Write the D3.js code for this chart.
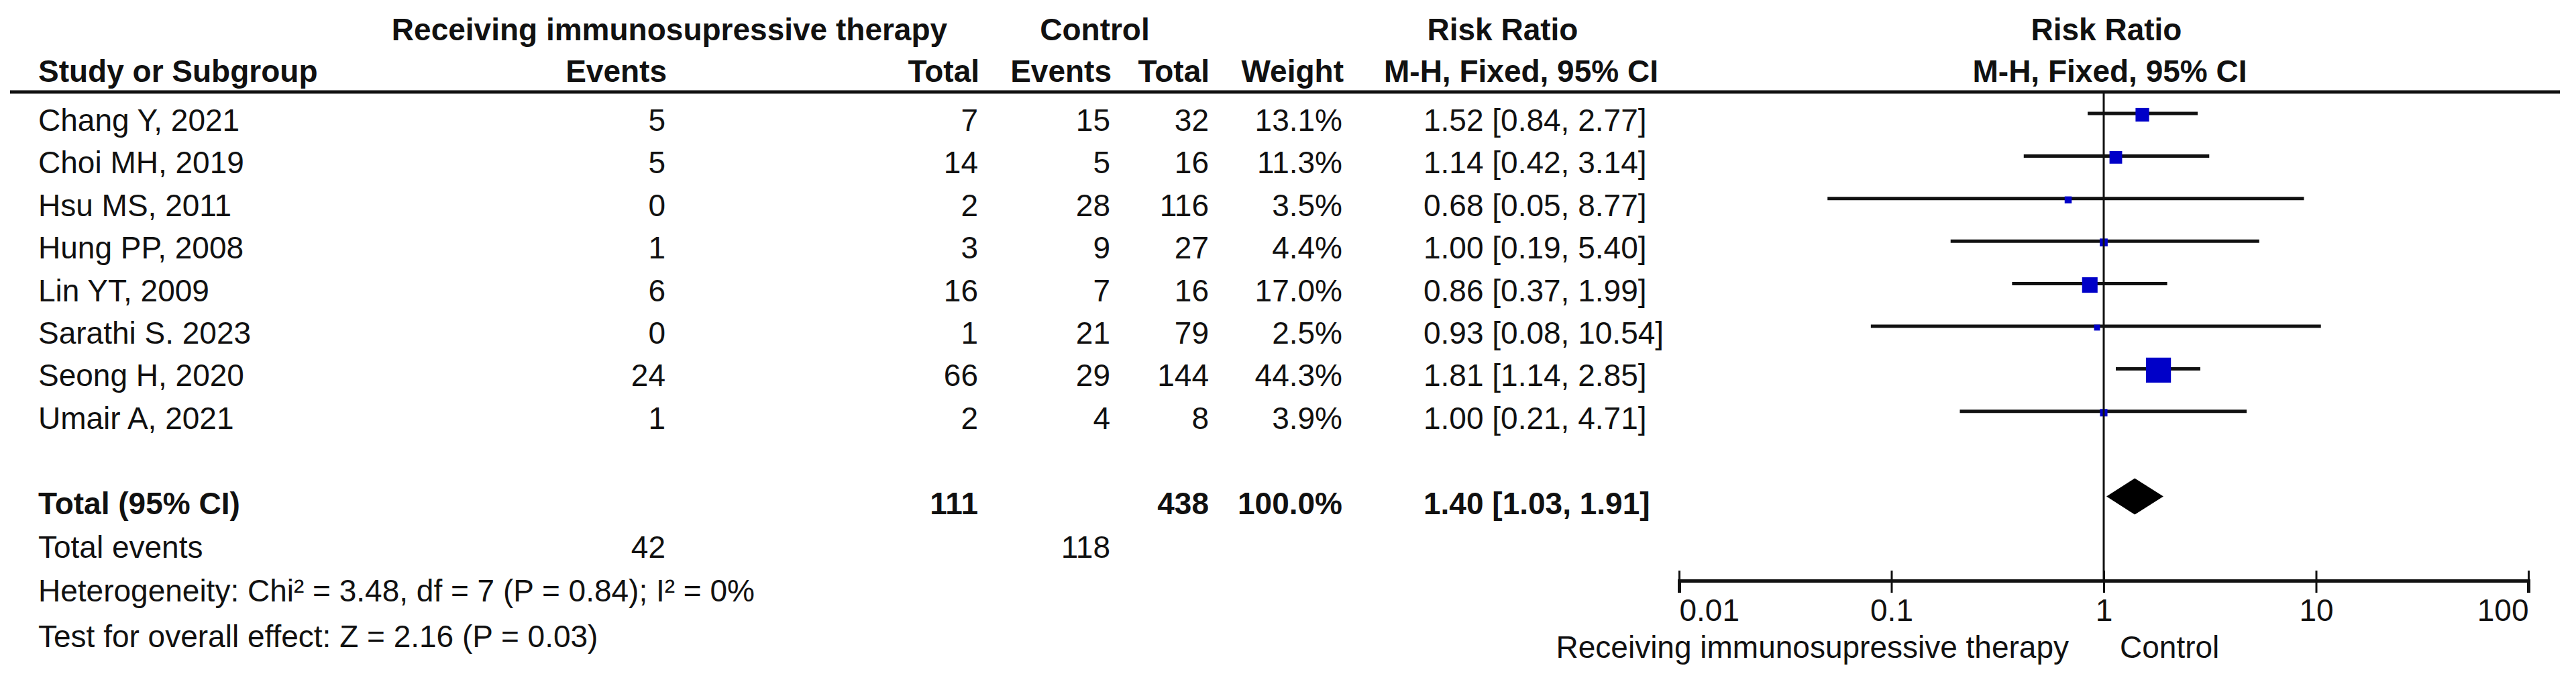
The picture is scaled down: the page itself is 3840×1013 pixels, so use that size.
<!DOCTYPE html>
<html>
<head>
<meta charset="utf-8">
<script src="https://cdn.jsdelivr.net/npm/d3@7"></script>
<style>
  body { margin: 0; background: #fff; }
  svg text { font-family: "Liberation Sans", Arial, sans-serif; fill: #111; }
</style>
</head>
<body>
<div id="plot"></div>
<script>
/*--- datos ---*/
let estudios = ["Chang Y, 2021", "Choi MH, 2019", "Hsu MS, 2011", "Hung PP, 2008",
                "Lin YT, 2009", "Sarathi S. 2023", "Seong H, 2020", "Umair A, 2021"]
let eventosExp  = [5, 5, 0, 1, 6, 0, 24, 1]
let totalExp    = [7, 14, 2, 3, 16, 1, 66, 2]
let eventosCtrl = [15, 5, 28, 9, 7, 21, 29, 4]
let totalCtrl   = [32, 16, 116, 27, 16, 79, 144, 8]
let pesos       = [13.1, 11.3, 3.5, 4.4, 17.0, 2.5, 44.3, 3.9]
let rr          = [1.52, 1.14, 0.68, 1.00, 0.86, 0.93, 1.81, 1.00]
let rrLow       = [0.84, 0.42, 0.05, 0.19, 0.37, 0.08, 1.14, 0.21]
let rrHigh      = [2.77, 3.14, 8.77, 5.40, 1.99, 10.54, 2.85, 4.71]

let total      = { expTotal: 111, ctrlTotal: 438, peso: "100.0%", rr: 1.40, lo: 1.03, hi: 1.91 }
let totalEventos = [42, 118]
let ticksRR    = [0.01, 0.1, 1, 10, 100]
let notas = ["Heterogeneity: Chi\u00b2 = 3.48, df = 7 (P = 0.84); I\u00b2 = 0%",
             "Test for overall effect: Z = 2.16 (P = 0.03)"]

/*--- escalas ---*/
let width = 3840
let height = 1013
let fs = 46

let x = d3.scaleLog().domain([0.01, 100]).range([2503, 3769])
let y = d3.scaleLinear().domain([0, 12]).range([169, 169 + 12 * 63.4])
let lado = d3.scaleSqrt().domain([0, 100]).range([0, 56])

let svg = d3.select("#plot").append("svg")
    .attr("width", width).attr("height", height)

let fmt2 = d3.format(".2f")
let ciTexto = (r, l, h) => fmt2(r) + " [" + fmt2(l) + ", " + fmt2(h) + "]"

/*--- encabezados ---*/
function texto(x0, y0, t, anchor, bold) {
    return svg.append("text")
        .attr("x", x0).attr("y", y0)
        .attr("text-anchor", anchor || "start")
        .attr("font-size", fs)
        .attr("font-weight", bold ? "bold" : "normal")
        .text(t)
}

texto(998, 60, "Receiving immunosupressive therapy", "middle", true)
texto(1632, 60, "Control", "middle", true)
texto(2240, 60, "Risk Ratio", "middle", true)
texto(3140, 60, "Risk Ratio", "middle", true)

texto(57, 122, "Study or Subgroup", "start", true)
texto(994, 122, "Events", "end", true)
texto(1460, 122, "Total", "end", true)
texto(1657, 122, "Events", "end", true)
texto(1803, 122, "Total", "end", true)
texto(2003, 122, "Weight", "end", true)
texto(2063, 122, "M-H, Fixed, 95% CI", "start", true)
texto(3145, 122, "M-H, Fixed, 95% CI", "middle", true)

svg.append("line")
    .attr("x1", 15).attr("x2", 3816)
    .attr("y1", 137).attr("y2", 137)
    .attr("stroke", "#111").attr("stroke-width", 5)

/*--- filas de estudios ---*/
let filas = svg.append("g").selectAll("g")
    .data(estudios)
    .enter().append("g")

let base = (d, i) => y(i) + 26

filas.append("text").attr("x", 57).attr("y", base).attr("font-size", fs).text(d => d)
filas.append("text").attr("x", 992).attr("y", base).attr("font-size", fs).attr("text-anchor", "end").text((d, i) => eventosExp[i])
filas.append("text").attr("x", 1458).attr("y", base).attr("font-size", fs).attr("text-anchor", "end").text((d, i) => totalExp[i])
filas.append("text").attr("x", 1655).attr("y", base).attr("font-size", fs).attr("text-anchor", "end").text((d, i) => eventosCtrl[i])
filas.append("text").attr("x", 1802).attr("y", base).attr("font-size", fs).attr("text-anchor", "end").text((d, i) => totalCtrl[i])
filas.append("text").attr("x", 2001).attr("y", base).attr("font-size", fs).attr("text-anchor", "end").text((d, i) => pesos[i].toFixed(1) + "%")
filas.append("text").attr("x", 2122).attr("y", base).attr("font-size", fs).text((d, i) => ciTexto(rr[i], rrLow[i], rrHigh[i]))

/*--- linea vertical en 1 ---*/
svg.append("line")
    .attr("x1", x(1)).attr("x2", x(1))
    .attr("y1", 137).attr("y2", 865)
    .attr("stroke", "#111").attr("stroke-width", 3)

// intervalos
filas.append("line")
    .attr("x1", (d, i) => x(rrLow[i]))
    .attr("x2", (d, i) => x(rrHigh[i]))
    .attr("y1", (d, i) => y(i))
    .attr("y2", (d, i) => y(i))
    .attr("stroke", "#111").attr("stroke-width", 5)

// cuadros
filas.append("rect")
    .attr("x", (d, i) => x(rr[i]) - lado(pesos[i]) / 2)
    .attr("y", (d, i) => y(i) + 2 - lado(pesos[i]) / 2)
    .attr("width", (d, i) => lado(pesos[i]))
    .attr("height", (d, i) => lado(pesos[i]))
    .attr("fill", "#0000c8")

/*--- total ---*/
let yT = y(9)
texto(57, yT + 26, "Total (95% CI)", "start", true)
texto(1458, yT + 26, total.expTotal, "end", true)
texto(1802, yT + 26, total.ctrlTotal, "end", true)
texto(2001, yT + 26, total.peso, "end", true)
texto(2122, yT + 26, ciTexto(total.rr, total.lo, total.hi), "start", true)

svg.append("path")
    .attr("d", d3.line()([
        [x(total.lo), yT],
        [x(total.rr), yT - 27],
        [x(total.hi), yT],
        [x(total.rr), yT + 27]
    ]) + "Z")
    .attr("fill", "#000")

texto(57, y(10) + 28, "Total events", "start", false)
texto(992, y(10) + 28, totalEventos[0], "end", false)
texto(1655, y(10) + 28, totalEventos[1], "end", false)
texto(57, y(11) + 30, notas[0], "start", false)
texto(57, y(12) + 34, notas[1], "start", false)

/*--- eje ---*/
let eje = svg.append("g")
    .attr("transform", "translate(0,865)")
    .call(d3.axisBottom(x).tickValues(ticksRR).tickSize(18).tickFormat(d => String(d)))

eje.select(".domain").attr("stroke", "#111").attr("stroke-width", 5)
eje.selectAll(".tick line").attr("y1", -15).attr("stroke", "#111").attr("stroke-width", 3)
eje.selectAll(".tick text")
    .attr("font-size", fs)
    .attr("font-family", "Liberation Sans, Arial, sans-serif")
    .attr("fill", "#111")
    .attr("y", 60).attr("dy", 0)
    .attr("text-anchor", (d, i) => i == 0 ? "start" : (i == ticksRR.length - 1 ? "end" : "middle"))

texto(x(1) - 52, 980, "Receiving immunosupressive therapy", "end", false)
texto(x(1) + 24, 980, "Control", "start", false)
</script>
</body>
</html>
